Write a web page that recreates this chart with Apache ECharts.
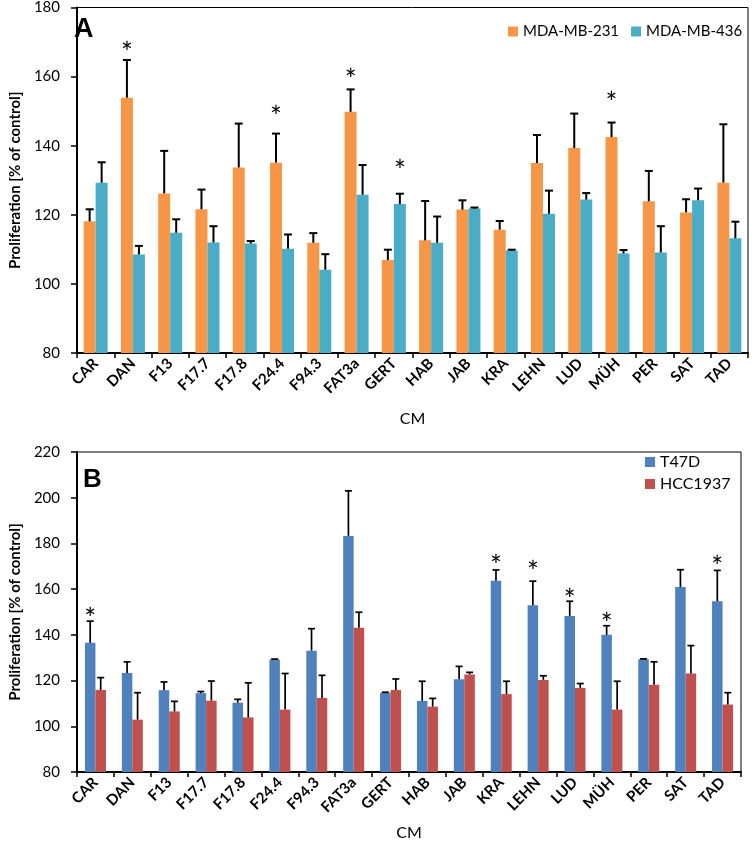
<!DOCTYPE html>
<html><head><meta charset="utf-8">
<script src="https://cdn.jsdelivr.net/npm/echarts@6/dist/echarts.min.js"></script>
<style>html,body{margin:0;padding:0;background:#fff}#c{width:752px;height:842px}</style>
</head><body><div id="c"></div>
<script>
const categories = ['CAR','DAN','F13','F17.7','F17.8','F24.4','F94.3','FAT3a','GERT','HAB','JAB','KRA','LEHN','LUD','MÜH','PER','SAT','TAD'];
const yTicksA = {min:80, max:180, interval:20};
const yTicksB = {min:80, max:220, interval:20};
// Panel A
const mda231    = [118.1,153.9,126.2,121.6,133.7,135.1,111.9,149.8,106.9,112.6,121.5,115.7,135.0,139.3,142.5,123.9,120.7,129.3];
const mda231Err = [121.6,164.8,138.5,127.3,146.4,143.5,114.7,156.3,109.9,124.0,124.2,118.2,143.1,149.3,146.7,132.7,124.5,146.2];
const mda436    = [129.3,108.5,114.8,112.0,111.7,110.2,104.1,125.8,123.1,111.9,121.8,109.7,120.3,124.4,108.8,109.1,124.2,113.2];
const mda436Err = [135.2,111.0,118.7,116.7,112.4,114.3,108.6,134.4,126.1,119.5,122.1,109.9,127.0,126.3,109.8,116.7,127.6,118.0];
const star231   = [0,168.5,0,0,0,150.1,0,160.8,0,0,0,0,0,0,154.2,0,0,0];
const star436   = [0,0,0,0,0,0,0,0,134.5,0,0,0,0,0,0,0,0,0];
// Panel B
const t47d      = [136.5,123.3,115.8,114.5,110.3,129.2,133.1,183.3,114.7,111.1,120.6,163.7,153.0,148.3,140.0,129.3,160.9,154.7];
const t47dErr   = [146.0,128.2,119.4,115.2,111.8,129.4,142.7,203.0,114.9,119.7,126.2,168.4,163.5,154.7,144.0,129.5,168.5,168.2];
const hcc1937   = [115.9,102.9,106.5,111.2,103.9,107.3,112.4,143.1,115.9,108.6,122.7,114.1,120.3,116.8,107.3,118.2,123.1,109.5];
const hcc1937Err= [121.3,114.7,110.9,119.8,119.0,123.1,122.3,149.9,120.7,112.2,123.6,119.7,122.1,118.7,119.7,128.2,135.3,114.7];
const starT47d  = [149.6,0,0,0,0,0,0,0,0,0,0,172.9,170.3,157.8,147.4,0,0,172.4];
const starHcc   = [0,0,0,0,0,0,0,0,0,0,0,0,0,0,0,0,0,0];

const FONT = 'Lato, "Open Sans", sans-serif';
const colors = {o:'#F79646', c:'#4BACC6', b:'#4F81BD', r:'#C0504D'};

function errSeries(xi, vals, errs, stars, offset, capW, lw) {
  return {
    type:'custom', xAxisIndex:xi, yAxisIndex:xi, z:5, silent:true,
    data: vals.map((v,i)=>[i, v, errs[i], stars[i]]),
    encode:{x:0, y:1},
    renderItem(params, api){
      const i = api.value(0);
      const p0 = api.coord([i, api.value(1)]);
      const p1 = api.coord([i, api.value(2)]);
      const x = p0[0] + offset;
      const st = {stroke:'#000', lineWidth:lw};
      const ch = [
        {type:'line', shape:{x1:x,y1:p0[1],x2:x,y2:p1[1]}, style:st},
        {type:'line', shape:{x1:x-capW/2,y1:p1[1],x2:x+capW/2,y2:p1[1]}, style:st}
      ];
      const s = api.value(3);
      if (s > 0) {
        const ps = api.coord([i, s]);
        ch.push({type:'text', x:x, y:ps[1]+7, style:{text:'*', fill:'#000', font:'28px ' + FONT, align:'center', verticalAlign:'middle'}});
      }
      return {type:'group', children:ch};
    }
  };
}

function xAx(gi, margin, nameGap){
  return {type:'category', gridIndex:gi, data:categories, boundaryGap:true,
    axisLine:{lineStyle:{color:'#000', width:2}},
    axisTick:{show:true, length:5, lineStyle:{color:'#000', width:1.5}},
    axisLabel:{interval:0, rotate:45, margin:margin, color:'#000', fontSize:15, fontWeight:'bold', fontFamily:FONT},
    name:'CM', nameLocation:'middle', nameGap:nameGap, nameTextStyle:{color:'#000', fontSize:16, fontFamily:FONT}};
}
function yAx(gi, t, nameGap){
  return {type:'value', gridIndex:gi, min:t.min, max:t.max, interval:t.interval,
    splitLine:{show:false},
    axisLine:{show:true, lineStyle:{color:'#000', width:2}},
    axisTick:{show:true, inside:false, length:6, lineStyle:{color:'#000', width:1.5}},
    axisLabel:{margin:17, color:'#000', fontSize:15, fontFamily:FONT},
    name:'Proliferation [% of control]', nameLocation:'middle', nameGap:nameGap,
    nameTextStyle:{color:'#000', fontSize:15, fontWeight:'bold', fontFamily:FONT}};
}

const chart = echarts.init(document.getElementById('c'), null, {renderer:'canvas'});
chart.setOption({
  animation:false,
  backgroundColor:'#fff',
  grid:[
    {left:63, top:7, right:4, bottom:489, show:true, borderColor:'#000', borderWidth:1},
    {left:72, top:452, right:11, bottom:65.5, show:true, borderColor:'#000', borderWidth:1}
  ],
  xAxis:[xAx(0, 8, 58), xAx(1, 8, 53)],
  yAxis:[yAx(0, yTicksA, 42), yAx(1, yTicksB, 51)],
  legend:[
    {data:['MDA-MB-231','MDA-MB-436'], left:508, top:24, padding:0, width:260, icon:'rect', itemWidth:10, itemHeight:10, itemGap:12,
     textStyle:{color:'#000', fontSize:15, fontFamily:FONT}},
    {data:['T47D','HCC1937'], orient:'vertical', left:645, top:453, padding:0, icon:'rect', itemWidth:10, itemHeight:10, itemGap:4,
     textStyle:{color:'#000', fontSize:16, lineHeight:18, fontFamily:FONT}}
  ],
  graphic:[
    {type:'text', x:74, y:30, style:{text:'A', font:'bold 27px "Liberation Sans", Arial', fill:'#000', verticalAlign:'middle'}},
    {type:'text', x:83, y:480, style:{text:'B', font:'bold 26px "Liberation Sans", Arial', fill:'#000', verticalAlign:'middle'}}
  ],
  series:[
    {name:'MDA-MB-231', type:'bar', xAxisIndex:0, yAxisIndex:0, data:mda231, barWidth:12, barGap:'0%', itemStyle:{color:colors.o}},
    {name:'MDA-MB-436', type:'bar', xAxisIndex:0, yAxisIndex:0, data:mda436, barWidth:12, barGap:'0%', itemStyle:{color:colors.c}},
    errSeries(0, mda231, mda231Err, star231, -6, 8, 2),
    errSeries(0, mda436, mda436Err, star436, 6, 8, 2),
    {name:'T47D', type:'bar', xAxisIndex:1, yAxisIndex:1, data:t47d, barWidth:10.5, barGap:'0%', itemStyle:{color:colors.b}},
    {name:'HCC1937', type:'bar', xAxisIndex:1, yAxisIndex:1, data:hcc1937, barWidth:10.5, barGap:'0%', itemStyle:{color:colors.r}},
    errSeries(1, t47d, t47dErr, starT47d, -5.25, 7, 1.7),
    errSeries(1, hcc1937, hcc1937Err, starHcc, 5.25, 7, 1.7)
  ]
});
</script></body></html>
